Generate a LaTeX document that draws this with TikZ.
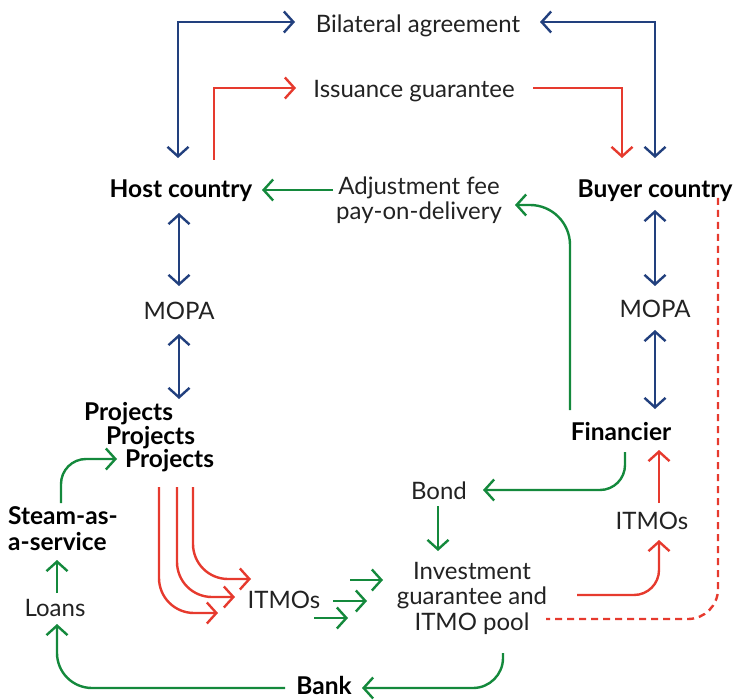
\documentclass[tikz,border=0pt]{standalone}
\usepackage{fontspec}
\setmainfont{Lato}
\usetikzlibrary{arrows.meta}
\definecolor{cblue}{HTML}{22407E}
\definecolor{cred}{HTML}{E63A2E}
\definecolor{cgreen}{HTML}{14893C}
\definecolor{ctext}{HTML}{222222}
\begin{document}
\begin{tikzpicture}[x=1pt,y=-1pt,
  >={Straight Barb[length=9.5pt,width=21pt]},
  conn/.style={line width=2.4pt},
  bl/.style={conn,draw=cblue},
  rd/.style={conn,draw=cred},
  gr/.style={conn,draw=cgreen},
  lbl/.style={inner sep=0pt,text=ctext,font=\fontsize{24}{25.5}\selectfont},
  bld/.style={inner sep=0pt,text=black,font=\fontsize{24.5}{26}\selectfont\bfseries}]
\useasboundingbox (0,0) rectangle (733,700);
% nodes
\node[lbl] (bil) at (418,26) {Bilateral agreement};
\node[lbl] (iss) at (414,91) {Issuance guarantee};
\node[bld] (host) at (181,191) {Host country};
\node[lbl,align=center] (adj) at (419,200) {Adjustment fee\\pay-on-delivery};
\node[bld] (buyer) at (655,191) {Buyer country};
\node[lbl] (mopaL) at (179,311) {MOPA};
\node[lbl] (mopaR) at (655,309) {MOPA};
\node[bld,anchor=west] (p1) at (84,414) {Projects};
\node[bld,anchor=west] (p2) at (106,438) {Projects};
\node[bld,anchor=west] (p3) at (125,461) {Projects};
\node[bld,align=left,anchor=west] (steam) at (8,529) {Steam-as-\\a-service};
\node[lbl] (loans) at (55,608) {Loans};
\node[bld] (bank) at (324,685) {Bank};
\node[lbl] (itmoL) at (284,600) {ITMOs};
\node[lbl] (bond) at (439,491) {Bond};
\node[lbl,align=center] (inv) at (472,598) {Investment\\guarantee and\\ITMO pool};
\node[bld] (fin) at (621,432) {Financier};
\node[lbl] (itmoR) at (652,521) {ITMOs};
% top connectors
\draw[bl,<->] (178,158) |- (295,22);
\draw[bl,<->] (540,22) -| (655,158);
\draw[rd,->] (214,160) |- (296,88);
\draw[rd,->] (533,88) -| (622,158);
\draw[gr,->] (333,190) -- (262,190);
\draw[gr,->,rounded corners=40] (570,410) |- (515,205);
% MOPA links
\draw[bl,<->] (179,213) -- (179,286);
\draw[bl,<->] (179,334) -- (179,399);
\draw[bl,<->] (655,210) -- (655,286);
\draw[bl,<->] (655,330) -- (655,409);
% dashed
\draw[rd,dash pattern=on 7pt off 5pt,rounded corners=30] (718,198) |- (546,619);
% right side
\draw[rd,->,rounded corners=25] (577,595) -| (659,540);
\draw[rd,->] (659,503) -- (659,450);
\draw[gr,->,rounded corners=25] (625,452) |- (483,490);
\draw[gr,->] (438,506) -- (438,551);
\draw[gr,->,rounded corners=30] (503,653) |- (362,688);
% left side
\draw[gr,->,rounded corners=35] (285,688) -| (57,624);
\draw[gr,->] (57,593) -- (57,560);
\draw[gr,->,rounded corners=25] (61,503) |- (117,459);
\draw[rd,->,rounded corners=35] (159,487) |- (218,613);
\draw[rd,->,rounded corners=35] (177,487) |- (235,597);
\draw[rd,->,rounded corners=35] (193,487) |- (251,579);
\draw[gr,->] (350,580) -- (383,580);
\draw[gr,->] (333,601) -- (367,601);
\draw[gr,->] (314,618) -- (348,618);
\end{tikzpicture}
\end{document}
